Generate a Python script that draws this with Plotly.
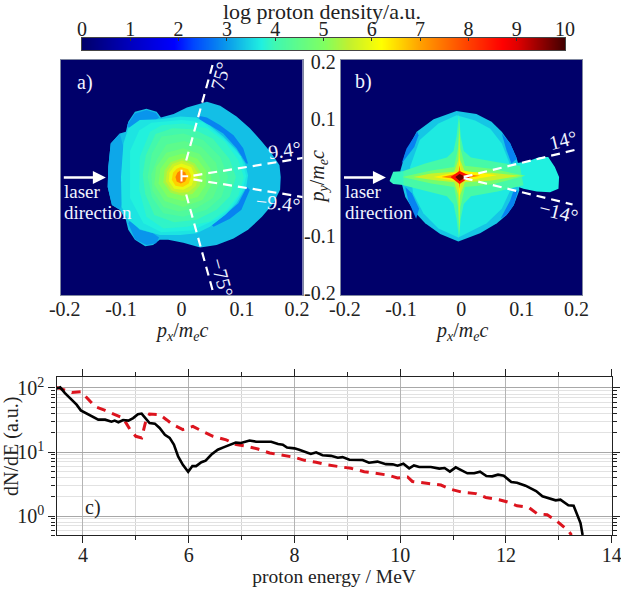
import math

import plotly.colors as pc
import plotly.graph_objects as go

W, H = 621, 590
SERIF = "Liberation Serif"

# colour table of the density scale (log proton density, 0..10)
scale_levels = [0, 1, 1.9, 2.3, 3, 3.7, 4, 5, 5.5, 6.2, 7, 8, 8.7, 9, 10]
scale_colors = ["rgb(0,0,106)", "rgb(0,0,190)", "rgb(0,0,255)", "rgb(0,70,255)", "rgb(10,155,235)",
                "rgb(32,240,224)", "rgb(64,248,176)", "rgb(128,255,96)", "rgb(192,240,48)",
                "rgb(255,255,0)", "rgb(255,160,0)", "rgb(255,64,0)", "rgb(255,0,0)",
                "rgb(224,0,0)", "rgb(64,0,0)"]
bar_levels = [0, 0.5, 1, 1.5, 1.9, 2.3, 2.6, 3, 3.4, 3.7, 4, 4.5, 5, 5.5, 5.8, 6.2, 6.6, 7, 7.5, 8, 8.7, 9, 9.5, 10]
bar_ticks = list(range(11))

# panel a) regions of equal density: (level, [(px, py), ...])
a_rim = [(0.042, 0.129), (0.064, 0.122), (0.091, 0.104), (0.113, 0.084), (0.133, 0.061), (0.149, 0.041),
         (0.162, 0.021), (0.164, 0.001), (0.163, -0.021), (0.152, -0.044), (0.133, -0.067), (0.110, -0.089),
         (0.086, -0.104), (0.058, -0.115), (0.031, -0.119), (0.003, -0.111), (-0.022, -0.106), (-0.036, -0.106),
         (-0.047, -0.115), (-0.060, -0.117), (-0.077, -0.106), (-0.088, -0.089), (-0.092, -0.072), (-0.102, -0.055),
         (-0.115, -0.047), (-0.122, -0.016), (-0.121, 0.018), (-0.117, 0.058), (-0.102, 0.075), (-0.092, 0.078),
         (-0.088, 0.095), (-0.077, 0.112), (-0.058, 0.117), (-0.041, 0.112), (-0.034, 0.102), (-0.013, 0.108),
         (0.009, 0.119)]
a_lobe_up = [(-0.090, 0.089), (-0.077, 0.109), (-0.058, 0.115), (-0.042, 0.110), (-0.037, 0.102), (-0.044, 0.097),
             (-0.069, 0.092), (-0.082, 0.078)]
a_lobe_low = [(-0.088, -0.078), (-0.077, -0.105), (-0.058, -0.115), (-0.042, -0.112), (-0.037, -0.102),
              (-0.047, -0.095), (-0.069, -0.089), (-0.084, -0.072)]
a_fringe = [(-0.102, 0.075), (-0.117, 0.058), (-0.121, 0.018), (-0.122, -0.016), (-0.115, -0.047), (-0.102, -0.055),
            (-0.096, -0.039), (-0.099, 0.001), (-0.096, 0.052)]
a_arc_up = [(0.028, 0.105), (0.042, 0.102), (0.064, 0.089), (0.086, 0.072), (0.102, 0.050), (0.110, 0.024),
            (0.107, 0.024), (0.091, 0.050), (0.069, 0.075), (0.047, 0.089), (0.031, 0.095)]
a_arc_low = [(0.108, -0.016), (0.113, -0.021), (0.099, -0.055), (0.080, -0.070), (0.053, -0.084), (0.050, -0.081),
             (0.075, -0.061), (0.094, -0.044)]
a_body = [(-0.096, 0.058), (-0.088, 0.084), (-0.069, 0.098), (-0.036, 0.099), (-0.002, 0.104), (0.025, 0.102),
          (0.047, 0.088), (0.069, 0.070), (0.091, 0.047), (0.105, 0.024), (0.110, 0.004), (0.107, -0.016),
          (0.091, -0.044), (0.072, -0.064), (0.047, -0.084), (0.025, -0.095), (-0.002, -0.098), (-0.036, -0.098),
          (-0.069, -0.088), (-0.088, -0.072), (-0.099, -0.050), (-0.100, 0.001)]
a_body2 = [(-0.085, 0.045), (-0.070, 0.080), (-0.050, 0.093), (0.000, 0.098), (0.035, 0.094), (0.070, 0.066),
           (0.098, 0.036), (0.107, 0.002), (0.100, -0.024), (0.083, -0.050), (0.060, -0.070), (0.017, -0.090),
           (-0.033, -0.093), (-0.063, -0.078), (-0.085, -0.035)]
a_inner = [(-0.069, 0.035), (-0.052, 0.078), (-0.033, 0.089), (0.003, 0.092), (0.042, 0.084), (0.072, 0.061),
           (0.094, 0.030), (0.103, 0.001), (0.094, -0.030), (0.075, -0.055), (0.047, -0.075), (0.009, -0.084),
           (-0.030, -0.087), (-0.058, -0.067), (-0.070, -0.021)]
a_mid2 = [(-0.059, 0.038), (-0.043, 0.074), (-0.015, 0.084), (0.020, 0.082), (0.052, 0.066), (0.079, 0.032),
          (0.090, 0.001), (0.080, -0.032), (0.058, -0.055), (0.025, -0.072), (-0.012, -0.076), (-0.045, -0.064),
          (-0.060, -0.028), (-0.064, 0.005)]
a_mid = [(-0.049, 0.041), (-0.033, 0.070), (0.003, 0.075), (0.036, 0.064), (0.064, 0.035), (0.077, 0.001),
         (0.066, -0.033), (0.042, -0.055), (0.003, -0.067), (-0.030, -0.061), (-0.049, -0.033), (-0.056, 0.001)]
a_c0 = [(-0.040, 0.032), (-0.025, 0.056), (0.005, 0.062), (0.033, 0.052), (0.057, 0.025), (0.064, -0.005),
        (0.052, -0.035), (0.025, -0.052), (-0.005, -0.058), (-0.030, -0.050), (-0.048, -0.022), (-0.050, 0.005)]
a_c1 = [(0.003, 0.050), (0.030, 0.040), (0.048, 0.015), (0.050, -0.012), (0.035, -0.038), (0.003, -0.050),
        (-0.028, -0.040), (-0.045, -0.012), (-0.042, 0.018), (-0.025, 0.042)]
a_c15 = [(0.002, 0.041), (0.026, 0.032), (0.041, 0.011), (0.040, -0.013), (0.027, -0.033), (0.002, -0.040),
         (-0.023, -0.033), (-0.038, -0.010), (-0.035, 0.015), (-0.021, 0.034)]
a_c2 = [(0.002, 0.033), (0.022, 0.024), (0.033, 0.006), (0.030, -0.014), (0.018, -0.028), (0.001, -0.031),
        (-0.018, -0.026), (-0.030, -0.008), (-0.028, 0.012), (-0.018, 0.026)]
a_c25 = [(0.001, 0.029), (0.019, 0.021), (0.028, 0.005), (0.024, -0.014), (0.011, -0.025), (-0.004, -0.026),
         (-0.016, -0.022), (-0.026, -0.007), (-0.024, 0.010), (-0.015, 0.023)]
a_c3 = [(0.000, 0.024), (0.016, 0.018), (0.022, 0.003), (0.017, -0.013), (0.003, -0.021), (-0.012, -0.019),
        (-0.021, -0.006), (-0.020, 0.008), (-0.012, 0.019)]
a_c4 = [(-0.001, 0.018), (0.011, 0.014), (0.016, 0.003), (0.012, -0.010), (0.002, -0.016), (-0.010, -0.014),
        (-0.016, -0.004), (-0.014, 0.008), (-0.008, 0.015)]
a_c5 = [(-0.002, 0.012), (0.006, 0.009), (0.009, 0.001), (0.006, -0.007), (-0.001, -0.010), (-0.008, -0.007),
        (-0.010, 0.001), (-0.007, 0.008)]
panel_a = [(3.3, a_rim), (2.95, a_lobe_up), (2.95, a_lobe_low), (3.1, a_fringe), (2.8, a_arc_up), (2.8, a_arc_low),
           (3.6, a_body), (3.72, a_body2), (3.85, a_inner), (4.05, a_mid2), (4.25, a_mid), (4.45, a_c0), (4.7, a_c1),
           (5.0, a_c15), (5.3, a_c2), (5.6, a_c25), (5.95, a_c3), (6.6, a_c4), (7.3, a_c5)]

# panel b)
b_rim = [(-0.008, 0.113), (0.025, 0.108), (0.050, 0.095), (0.067, 0.078), (0.081, 0.058), (0.091, 0.035),
         (0.095, 0.021), (0.096, -0.022), (0.087, -0.047), (0.075, -0.064), (0.059, -0.078), (0.031, -0.095),
         (-0.005, -0.109), (-0.035, -0.096), (-0.060, -0.078), (-0.078, -0.058), (-0.093, -0.033), (-0.098, -0.013),
         (-0.101, 0.012), (-0.093, 0.041), (-0.074, 0.078), (-0.046, 0.099)]
b_arc_ru = [(0.067, 0.075), (0.081, 0.058), (0.092, 0.032), (0.083, 0.024), (0.075, 0.046)]
b_arc_rl = [(0.094, -0.022), (0.087, -0.047), (0.075, -0.064), (0.065, -0.070), (0.081, -0.039), (0.086, -0.024)]
b_arc_lu = [(-0.073, 0.078), (-0.091, 0.049), (-0.099, 0.024), (-0.091, 0.035), (-0.078, 0.052), (-0.071, 0.072)]
b_arc_ll = [(-0.093, -0.016), (-0.088, -0.039), (-0.075, -0.070), (-0.070, -0.053), (-0.082, -0.027)]
b_body = [(-0.008, 0.106), (0.023, 0.097), (0.048, 0.083), (0.067, 0.058), (0.081, 0.021), (0.081, -0.022),
          (0.067, -0.053), (0.042, -0.078), (-0.005, -0.102), (-0.038, -0.087), (-0.063, -0.061), (-0.080, -0.027),
          (-0.085, 0.018), (-0.069, 0.064), (-0.038, 0.092)]
b_jet = [(0.086, 0.024), (0.108, 0.027), (0.130, 0.035), (0.144, 0.035), (0.155, 0.018), (0.162, 0.001),
         (0.161, -0.019), (0.147, -0.025), (0.125, -0.024), (0.103, -0.019), (0.086, -0.013)]
b_tip = [(-0.119, -0.006), (-0.113, 0.010), (-0.093, 0.011), (-0.093, -0.013), (-0.113, -0.011)]
b_s1 = [(-0.004, 0.108), (-0.001, 0.070), (0.004, 0.045), (0.016, 0.034), (0.060, 0.026), (0.097, 0.020),
        (0.103, -0.013), (0.060, -0.024), (0.016, -0.032), (0.004, -0.045), (-0.001, -0.070), (-0.004, -0.104),
        (-0.008, -0.070), (-0.013, -0.045), (-0.024, -0.032), (-0.060, -0.022), (-0.096, -0.013), (-0.096, 0.011),
        (-0.060, 0.024), (-0.024, 0.034), (-0.013, 0.045), (-0.008, 0.070)]
b_s2 = [(-0.0035, 0.100), (-0.0015, 0.050), (0.006, 0.020), (0.050, 0.015), (0.106, 0.003),
        (0.050, -0.012), (0.006, -0.016), (-0.0015, -0.050), (-0.0035, -0.100), (-0.0055, -0.050), (-0.012, -0.016),
        (-0.050, -0.010), (-0.098, 0.001), (-0.050, 0.012), (-0.012, 0.018), (-0.0055, 0.050)]
b_s3 = [(-0.0035, 0.085), (-0.002, 0.030), (0.006, 0.010), (0.050, 0.008), (0.098, 0.003),
        (0.050, -0.005), (0.006, -0.008), (-0.002, -0.030), (-0.0035, -0.090), (-0.005, -0.030), (-0.012, -0.008),
        (-0.050, -0.004), (-0.080, 0.001), (-0.050, 0.007), (-0.012, 0.010), (-0.005, 0.030)]
b_s4 = [(-0.003, 0.035), (-0.001, 0.012), (0.059, 0.004), (-0.001, -0.007), (-0.003, -0.039), (-0.005, -0.007),
        (-0.046, 0.001), (-0.005, 0.010)]
b_s5 = [(-0.003, 0.021), (-0.001, 0.007), (0.031, 0.003), (-0.001, -0.003), (-0.003, -0.019), (-0.005, -0.003),
        (-0.033, 0.001), (-0.005, 0.007)]
b_s6 = [(-0.003, 0.011), (0.016, 0.002), (-0.003, -0.011), (-0.018, 0.001)]
b_s7 = [(-0.003, 0.006), (0.008, 0.001), (-0.003, -0.006), (-0.010, 0.001)]
panel_b = [(3.35, b_rim), (2.8, b_arc_ru), (2.8, b_arc_rl), (2.8, b_arc_lu), (2.8, b_arc_ll), (3.65, b_body),
           (3.7, b_jet), (3.9, b_tip), (4.1, b_s1), (4.8, b_s2), (5.6, b_s3), (6.3, b_s4), (7.3, b_s5), (8.5, b_s6),
           (9.7, b_s7)]

# dashed guide lines (degrees, start radius, end radius)
a_guides = [(75, 0.03, 0.21), (-75, 0.03, 0.21), (9.4, 0.02, 0.205), (-9.4, 0.02, 0.205)]
b_guides = [(14, 0.004, 0.2), (-14, 0.004, 0.19)]
panel_tick_pos = [-0.193, -0.1, 0, 0.1, 0.191]
panel_tick_text = ["-0.2", "-0.1", "0", "0.1", "0.2"]
py_ticks = [-0.197, -0.1, 0.1, 0.197]
py_tick_text = ["-0.2", "-0.1", "0.1", "0.2"]

# panel c) spectra, log10(dN/dE) per energy in MeV
black_e = [3.50, 3.57, 3.66, 3.79, 3.88, 3.96, 4.08, 4.19, 4.29, 4.42, 4.54, 4.60, 4.67, 4.76, 4.86, 4.95, 5.04, 5.11,
           5.18, 5.26, 5.36, 5.45, 5.55, 5.64, 5.72, 5.80, 5.89, 5.99, 6.07, 6.14, 6.24, 6.32, 6.43, 6.55, 6.68, 6.81,
           6.89, 6.99, 7.15, 7.28, 7.40, 7.56, 7.69, 7.78, 7.86, 8.00, 8.09, 8.22, 8.31, 8.41, 8.53, 8.69, 8.82, 8.91,
           9.04, 9.29, 9.41, 9.57, 9.73, 9.86, 9.95, 10.06, 10.17, 10.26, 10.36, 10.58, 10.74, 10.84, 10.94, 11.05,
           11.18, 11.27, 11.40, 11.51, 11.63, 11.74, 11.85, 11.96, 12.10, 12.21, 12.37, 12.57, 12.69, 12.81, 12.94,
           13.03, 13.18, 13.28, 13.35, 13.41, 13.45]
black_log = [1.99, 2.01, 1.92, 1.82, 1.74, 1.65, 1.60, 1.55, 1.505, 1.505, 1.474, 1.49, 1.464, 1.50, 1.49, 1.53, 1.59,
             1.60, 1.53, 1.453, 1.443, 1.375, 1.27, 1.22, 1.115, 0.93, 0.80, 0.69, 0.78, 0.78, 0.84, 0.865, 0.96, 1.036,
             1.08, 1.115, 1.146, 1.14, 1.18, 1.16, 1.156, 1.16, 1.125, 1.115, 1.07, 1.057, 1.036, 1.00, 0.97, 0.995,
             0.95, 0.94, 0.91, 0.92, 0.88, 0.875, 0.833, 0.85, 0.81, 0.807, 0.786, 0.818, 0.745, 0.79, 0.766, 0.766,
             0.74, 0.75, 0.693, 0.76, 0.708, 0.667, 0.667, 0.693, 0.625, 0.62, 0.646, 0.63, 0.53, 0.52, 0.474, 0.39,
             0.307, 0.276, 0.245, 0.255, 0.167, 0.16, 0.02, -0.11, -0.297]
red_e = [3.50, 3.63, 3.79, 3.97, 4.08, 4.23, 4.42, 4.60, 4.76, 4.89, 5.00, 5.11, 5.18, 5.26, 5.45, 5.58, 5.70, 5.89,
         6.08, 6.27, 6.46, 6.71, 6.90, 7.09, 7.31, 7.53, 7.78, 8.00, 8.19, 8.41, 8.63, 8.85, 9.07, 9.32, 9.54, 9.76,
         9.95, 10.14, 10.23, 10.36, 10.61, 10.77, 10.96, 11.18, 11.43, 11.62, 11.87, 12.03, 12.21, 12.43, 12.59,
         12.78, 12.97, 13.19, 13.24]
red_log = [2.01, 1.974, 1.93, 1.94, 1.84, 1.71, 1.65, 1.58, 1.53, 1.35, 1.245, 1.22, 1.453, 1.594, 1.583, 1.505, 1.427,
           1.35, 1.40, 1.32, 1.245, 1.19, 1.115, 1.09, 1.047, 0.984, 0.948, 0.917, 0.87, 0.84, 0.797, 0.77, 0.745,
           0.693, 0.672, 0.64, 0.594, 0.61, 0.54, 0.53, 0.50, 0.484, 0.417, 0.37, 0.35, 0.29, 0.255, 0.22, 0.16, 0.135,
           0.036, 0.02, -0.083, -0.24, -0.297]
c_major = [1, 10, 100]
c_major_text = ["10<sup>0</sup>", "10<sup>1</sup>", "10<sup>2</sup>"]
c_minor = [0.5, 0.6, 0.7, 0.8, 0.9, 2, 3, 4, 5, 6, 7, 8, 9, 20, 30, 40, 50, 60, 70, 80, 90]

colorscale = [[lev / 10, col] for lev, col in zip(scale_levels, scale_colors)]


def level_color(level):
    return pc.sample_colorscale(colorscale, [level / 10])[0]


def add_regions(fig, regions, xaxis, yaxis):
    # empty part of the map, density level 0
    fig.add_trace(go.Heatmap(x=[-0.2, 0.2], y=[-0.2, 0.2], z=[[0, 0], [0, 0]], zmin=0, zmax=10, colorscale=colorscale,
                             showscale=False, hoverinfo="skip", xaxis=xaxis, yaxis=yaxis))
    for level, pts in regions:
        fig.add_trace(go.Scatter(
            x=[p[0] for p in pts], y=[p[1] for p in pts],
            mode="lines", fill="toself", fillcolor=level_color(level),
            line=dict(width=0), hoverinfo="skip", showlegend=False,
            xaxis=xaxis, yaxis=yaxis,
        ))


def add_guides(fig, guides, xaxis, yaxis):
    for deg, r0, r1 in guides:
        a = math.radians(deg)
        fig.add_trace(go.Scatter(
            x=[r0 * math.cos(a), r1 * math.cos(a)], y=[r0 * math.sin(a), r1 * math.sin(a)],
            mode="lines", line=dict(color="white", width=2.2, dash="9px,6px"),
            hoverinfo="skip", showlegend=False, xaxis=xaxis, yaxis=yaxis,
        ))


def dom_x(a, b):
    return [a / W, b / W]


def dom_y(top, bottom):
    return [1 - bottom / H, 1 - top / H]


fig = go.Figure()

# colour bar
fig.add_trace(go.Heatmap(
    x=bar_levels, y=[0, 1], z=[bar_levels, bar_levels], zmin=0, zmax=10, zsmooth="best",
    colorscale=colorscale, showscale=False, hoverinfo="skip", xaxis="x3", yaxis="y3",
))

add_regions(fig, panel_a, "x", "y")
add_guides(fig, a_guides, "x", "y")
fig.add_trace(go.Scatter(x=[0, 0, None, 0, 0.011], y=[0.013, -0.007, None, 0.002, 0.002], mode="lines",
                         line=dict(color="white", width=2), hoverinfo="skip", showlegend=False))

add_regions(fig, panel_b, "x2", "y2")
add_guides(fig, b_guides, "x2", "y2")

fig.add_trace(go.Scatter(x=red_e, y=[10 ** v for v in red_log], mode="lines", showlegend=False, xaxis="x4", yaxis="y4",
                         line=dict(color="#dc141e", width=3, dash="9px,7px")))
fig.add_trace(go.Scatter(x=black_e, y=[10 ** v for v in black_log], mode="lines", showlegend=False, xaxis="x4",
                         yaxis="y4", line=dict(color="black", width=2.6)))

top_font = dict(family=SERIF, size=20, color="#222222")
panel_axis = dict(range=[-0.2, 0.2], showgrid=False, zeroline=False, ticks="", mirror=True, showline=True,
                  linecolor="#8088a0", linewidth=1, tickfont=top_font, automargin=False)
c_font = dict(family=SERIF, size=20, color="#222222")
grid_minor = "#e2e2e2"

fig.update_layout(
    template="none",
    width=W, height=H, autosize=False, margin=dict(l=0, r=0, t=0, b=0),
    paper_bgcolor="white", plot_bgcolor="white", showlegend=False,
    xaxis=dict(panel_axis, domain=dom_x(60.5, 302.5), tickvals=panel_tick_pos, ticktext=panel_tick_text,
               ticklabelstandoff=-4, anchor="y"),
    yaxis=dict(panel_axis, domain=dom_y(60, 295), showticklabels=False, anchor="x"),
    xaxis2=dict(panel_axis, domain=dom_x(340.7, 582), tickvals=panel_tick_pos, ticktext=panel_tick_text,
                ticklabelstandoff=-4, anchor="y2"),
    yaxis2=dict(panel_axis, domain=dom_y(60, 295), tickvals=py_ticks, ticktext=py_tick_text, anchor="x2"),
    xaxis3=dict(domain=dom_x(82, 565), range=[0, 10], side="top", tickvals=bar_ticks, ticks="inside", ticklen=3,
                tickcolor="#333333", tickfont=top_font, showline=True, mirror=True, linecolor="#444444", linewidth=1,
                showgrid=False, zeroline=False, anchor="y3", automargin=False, ticklabelstandoff=-7),
    yaxis3=dict(domain=dom_y(38, 50), range=[0, 1], showticklabels=False, ticks="", showline=True, mirror=True,
                linecolor="#444444", linewidth=1, showgrid=False, zeroline=False, anchor="x3", automargin=False),
    xaxis4=dict(domain=dom_x(56.5, 611.7), range=[3.5, 14], dtick=2, tick0=0, ticks="outside", ticklen=7, tickwidth=1.3,
                tickcolor="#222222", showline=True, mirror="ticks", linecolor="#222222", linewidth=1.3,
                gridcolor="#b4b4b4", gridwidth=1, zeroline=False, tickfont=c_font, anchor="y4", automargin=False,
                ticklabelstandoff=-5, ticklabeloverflow="allow",
                minor=dict(dtick=1, ticks="outside", ticklen=4, tickcolor="#222222", showgrid=True, gridcolor="#d4d4d4"),
                title=dict(text="proton energy / MeV", font=dict(family=SERIF, size=19.5, color="#222222"), standoff=3)),
    yaxis4=dict(domain=dom_y(376.7, 535.3), type="log", range=[math.log10(0.5), math.log10(150)],
                tickvals=c_major, ticktext=c_major_text, ticks="outside", ticklen=7, tickwidth=1.3, tickcolor="#222222",
                showline=True, mirror="ticks", linecolor="#222222", linewidth=1.3, gridcolor="#a8a8a8", gridwidth=1,
                zeroline=False, tickfont=c_font, anchor="x4", automargin=False,
                minor=dict(tickvals=c_minor, ticks="outside", ticklen=4, tickcolor="#222222", showgrid=True,
                           gridcolor=grid_minor)),
)

in_panel = [
    ("x", "y", -0.16, 0.161, "a)", 20, 0), ("x2", "y2", -0.162, 0.163, "b)", 20, 0),
    ("x", "y", 0.064, 0.173, "75°", 20, -75), ("x", "y", 0.067, -0.169, "−75°", 20, 75),
    ("x", "y", 0.171, 0.047, "9.4°", 20, -8), ("x", "y", 0.16, -0.043, "−9.4°", 20, 6),
    ("x2", "y2", 0.169, 0.064, "14°", 20, -14), ("x2", "y2", 0.161, -0.059, "−14°", 20, 14),
]
for xr, yr, xv, yv, txt, size, rot in in_panel:
    fig.add_annotation(xref=xr, yref=yr, x=xv, y=yv, text=txt, showarrow=False, textangle=rot, xanchor="center",
                       yanchor="middle", font=dict(family=SERIF, size=size, color="#f0f4ff"))
label_font = dict(family=SERIF, size=19, color="#f0f4ff")
for xr, yr in [("x", "y"), ("x2", "y2")]:
    fig.add_annotation(xref=xr, yref=yr, x=-0.197, y=-0.023, text="laser", showarrow=False, xanchor="left",
                       yanchor="middle", font=label_font)
    fig.add_annotation(xref=xr, yref=yr, x=-0.197, y=-0.059, text="direction", showarrow=False, xanchor="left",
                       yanchor="middle", font=label_font)
    fig.add_annotation(xref=xr, yref=yr, x=-0.125, y=0, ax=-0.197, ay=0, axref=xr, ayref=yr, text="", showarrow=True,
                       arrowhead=2, arrowsize=1, arrowwidth=2.6, arrowcolor="white")

# texts placed in page pixels: (x, y, text, size, angle)
page_texts = [
    (322, 11, "log proton density/a.u.", 22, 0),
    (318, 177.5, "<i>p<sub>y</sub></i>/<i>m<sub>e</sub>c</i>", 20, -90),
    (181.5, 331, "<i>p<sub>x</sub></i>/<i>m<sub>e</sub>c</i>", 20, 0),
    (461.3, 331, "<i>p<sub>x</sub></i>/<i>m<sub>e</sub>c</i>", 20, 0),
    (11, 447, "dN/dE (a.u.)", 20, -90),
    (93, 507, "c)", 20, 0),
]
for px, py, txt, size, rot in page_texts:
    fig.add_annotation(xref="paper", yref="paper", x=px / W, y=1 - py / H, text=txt, showarrow=False, textangle=rot,
                       xanchor="center", yanchor="middle", font=dict(family=SERIF, size=size, color="#222222"))

# the browser's default page margin would push the figure off the window
fig.write_html("out.html", config={"displayModeBar": False}, post_script="document.body.style.margin='0';")
